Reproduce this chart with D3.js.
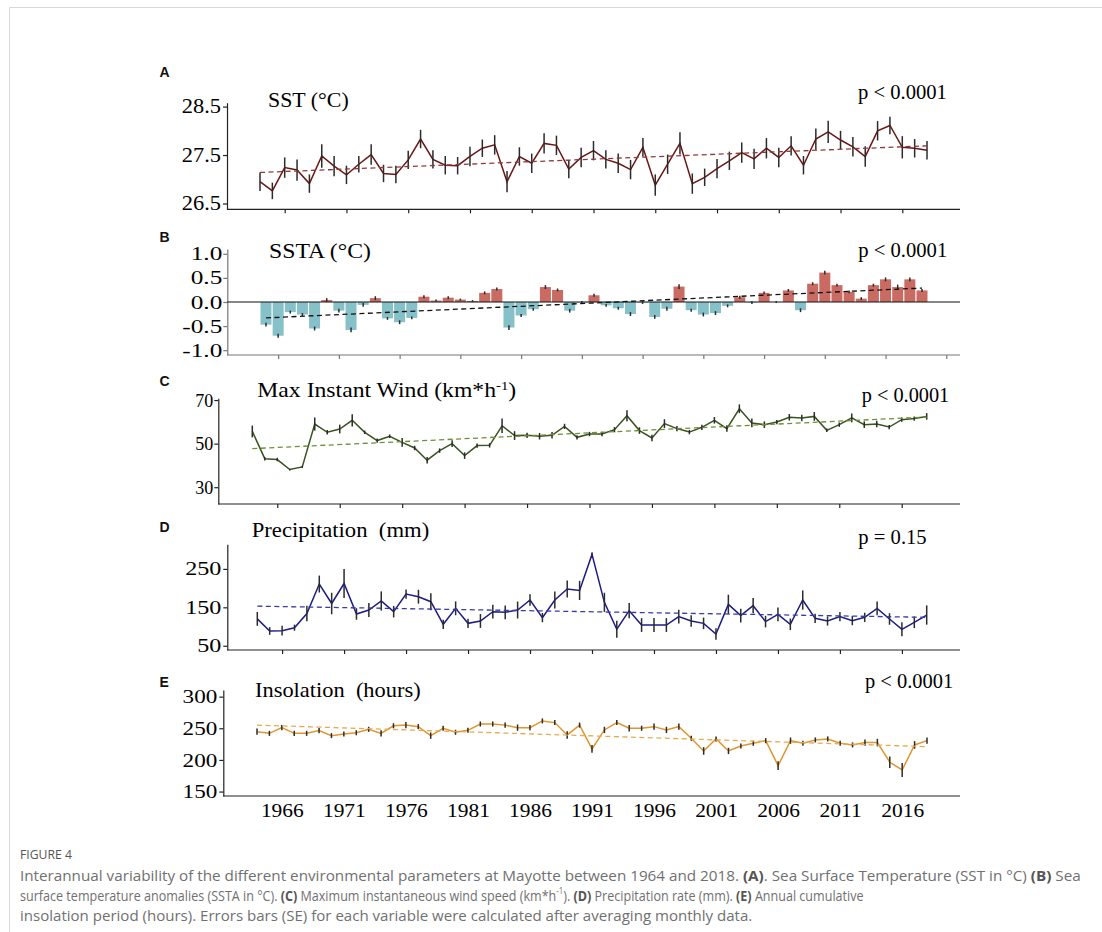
<!DOCTYPE html>
<html><head><meta charset="utf-8">
<script src="https://cdn.jsdelivr.net/npm/d3@7"></script>
<style>
body{margin:0;background:#fff;}
svg{display:block;}
</style></head><body>
<svg id="fig" width="1102" height="932"></svg>
<script>
// ---- data -------------------------------------------------------------
const years = d3.range(1964, 2019);

const sst = [26.95,26.76,27.24,27.19,26.91,27.48,27.27,27.09,27.31,27.51,27.12,27.10,27.40,27.83,27.41,27.29,27.28,27.47,27.64,27.71,26.95,27.47,27.33,27.74,27.70,
             27.21,27.45,27.59,27.41,27.33,27.20,27.66,26.88,27.31,27.74,26.91,27.04,27.22,27.38,27.55,27.42,27.64,27.45,27.69,27.29,27.83,27.98,27.81,27.67,27.47,28.00,28.11,27.66,27.64,27.60];
const sstSE = [0.19,0.17,0.21,0.22,0.19,0.24,0.21,0.19,0.17,0.21,0.18,0.18,0.19,0.19,0.19,0.19,0.18,0.20,0.18,0.20,0.22,0.19,0.20,0.21,0.20,
               0.19,0.20,0.20,0.19,0.20,0.20,0.19,0.22,0.20,0.23,0.21,0.18,0.20,0.19,0.21,0.21,0.21,0.20,0.20,0.19,0.22,0.23,0.19,0.20,0.21,0.20,0.18,0.23,0.19,0.19];
const sstTrend = [27.14, 27.69];
const sstTicks = [26.5, 27.5, 28.5];

const ssta = [-0.47,-0.70,-0.21,-0.26,-0.55,0.04,-0.18,-0.58,-0.06,0.08,-0.34,-0.42,-0.33,0.11,0.03,0.09,0.05,0.02,0.19,0.27,-0.53,-0.28,-0.15,0.31,0.25,
              -0.18,-0.01,0.14,-0.07,-0.13,-0.25,-0.01,-0.31,-0.14,0.32,-0.17,-0.26,-0.23,-0.08,0.10,-0.01,0.19,0.00,0.24,-0.17,0.38,0.61,0.35,0.21,0.07,0.35,0.47,0.31,0.47,0.24];
const sstaSE = [0.04,0.04,0.03,0.03,0.04,0.04,0.04,0.05,0.04,0.04,0.03,0.04,0.03,0.03,0.02,0.03,0.02,0.02,0.03,0.03,0.05,0.03,0.03,0.04,0.03,
                0.04,0.03,0.03,0.03,0.03,0.04,0.03,0.04,0.04,0.05,0.03,0.04,0.04,0.03,0.03,0.03,0.03,0.02,0.03,0.04,0.03,0.04,0.03,0.03,0.03,0.03,0.04,0.05,0.04,0.03];
const sstaTrend = [-0.33, 0.29];
const sstaTicks = [-1.0, -0.5, 0.0, 0.5, 1.0];

const wind = [55.6,43.1,42.7,38.1,39.3,59.0,55.2,56.7,60.7,55.2,51.4,53.4,50.6,48.0,42.4,46.8,50.0,44.5,49.1,49.2,58.2,53.7,53.8,53.4,53.8,
              57.9,52.9,54.4,54.4,56.4,62.8,56.0,52.6,59.2,56.9,55.3,57.5,60.7,56.9,66.0,59.5,58.7,59.9,62.1,61.8,62.5,56.1,58.7,61.8,58.7,59.0,57.6,61.0,61.5,62.5];
const windSE = [2.7,0.8,0.8,0.4,0.5,3.0,1.0,2.0,2.8,0.8,1.0,0.8,2.0,1.0,1.5,1.0,1.5,1.5,1.0,1.0,3.3,2.0,1.2,1.5,1.5,
                1.2,1.0,1.0,1.0,1.2,2.5,1.5,1.5,2.0,1.2,1.0,1.2,1.5,1.5,2.0,2.0,1.5,1.0,1.5,1.5,2.0,0.8,1.0,2.0,1.5,1.5,1.0,1.0,1.0,1.5];
const windTrend = [47.7, 62.2];
const windTicks = [30, 50, 70];

const precip = [120,88.5,89.4,97,134,210.6,160,212,132.7,143,166.5,138.7,184.6,177.7,164.7,105.8,147.4,108.4,114.5,138.7,137,143,169,123.2,169,
                197.6,194,287.7,163,92.9,141.3,104,104,104,125.8,114.5,108.4,80.7,157.8,128.4,154.3,112.8,131.8,105.8,169,121.4,114.5,125.8,115.4,124,147.4,119.7,92.9,111,130];
const precipSE = [18,10,13,8,20,22,28,38,15,18,25,15,12,18,22,12,18,12,18,18,18,22,15,12,22,
                  22,25,5,25,22,20,18,18,18,18,15,15,15,25,18,20,15,18,15,25,12,12,12,12,12,18,15,18,15,25];
const precipTrend = [153, 124];
const precipTicks = [50, 150, 250];

const insol = [244.7,242,251,242,242,246.3,238.4,241,243,248.4,242,254,255,252.6,238.4,250,243.7,246.8,256.8,256.8,255,251,251,261.6,259,
               239.5,255,217.4,247.4,259,250,250,252.6,247.4,252.6,234.2,214.2,233.2,214.2,222.1,226.3,230.5,191,230.5,226.3,231.6,233.2,226.3,223.7,227.4,227.4,196.3,184.2,223.7,230.5];
const insolSE = [5,4,4,4,4,4,4,4,4,4,5,4,5,4,5,4,4,4,4,4,4,5,4,4,4,
                 6,4,6,5,4,5,4,5,5,5,4,6,4,5,4,4,4,7,5,4,4,4,4,4,5,6,9,11,6,5];
const insolTrend = [255, 221];
const insolTicks = [150, 200, 250, 300];

const yearTicks = d3.range(1966, 2017, 5);
const sstaYearTicks = d3.range(1965, 2021, 5);

// ---- drawing ----------------------------------------------------------
const serif = "'Liberation Serif','Times New Roman',serif";
const sans = "'Liberation Sans',Arial,sans-serif";
const hyphenFmt = d => d.toFixed(1).replace("\u2212", "-");

const panels = [
  {key:"A", kind:"line", values:sst, se:sstSE, trend:sstTrend, domain:[26.38,28.58], yTicks:sstTicks, fmt:d=>d.toFixed(1),
   xTicks:yearTicks, axisX:227, top:102.7, bottom:209.3, xr:[260,927],
   line:"#6b1616", trendColor:"#8f3a3a", axisColor:"#222",
   title:[["SST (°C)"]], titleX:268, titleY:107, titleW:80.7,
   pText:"p < 0.0001", pX:858, pY:99, pW:89, labelY:77,
   tickFont:20, tickSX:1.12, tickGap:6},
  {key:"B", kind:"bar", values:ssta, se:sstaSE, trend:sstaTrend, domain:[-1.1,1.1], yTicks:sstaTicks, fmt:hyphenFmt,
   xTicks:sstaYearTicks, axisX:227.3, top:249, bottom:355, xr:[266,922],
   pos:"#c96a63", neg:"#86c0c8", trendColor:"#111", axisColor:"#777",
   title:[["SSTA (°C)"]], titleX:269, titleY:258.3, titleW:102,
   pText:"p < 0.0001", pX:858.3, pY:256.7, pW:89, labelY:241.7,
   tickFont:19, tickSX:1.33, tickGap:5},
  {key:"C", kind:"line", values:wind, se:windSE, trend:windTrend, domain:[22.3,70.8], yTicks:windTicks, fmt:d3.format("d"),
   xTicks:yearTicks, axisX:218.3, top:398.3, bottom:504, xr:[252.3,926.7],
   line:"#3a5420", trendColor:"#6d8f35", axisColor:"#222",
   title:[["Max Instant Wind (km*h"],["-1","sup"],[")"]], titleX:257.3, titleY:397, titleW:259,
   pText:"p < 0.0001", pX:861.7, pY:401.7, pW:87.6, labelY:386,
   tickFont:19, tickSX:0.95, tickGap:5},
  {key:"D", kind:"line", values:precip, se:precipSE, trend:precipTrend, domain:[39,314], yTicks:precipTicks, fmt:d3.format("d"),
   xTicks:yearTicks, axisX:227.3, top:544.3, bottom:650, xr:[257.3,926.7],
   line:"#1c1c86", trendColor:"#3b3ba6", axisColor:"#222",
   title:[["Precipitation  (mm)"]], titleX:251.7, titleY:536.7, titleW:177.6,
   pText:"p = 0.15", pX:858.3, pY:544.3, pW:68.4, labelY:531.7,
   tickFont:19, tickSX:1.27, tickGap:6},
  {key:"E", kind:"line", values:insol, se:insolSE, trend:insolTrend, domain:[143,310.5], yTicks:insolTicks, fmt:d3.format("d"),
   xTicks:yearTicks, axisX:223.3, top:690, bottom:796, xr:[257,927],
   line:"#e0952e", trendColor:"#e9a94f", axisColor:"#222",
   title:[["Insolation  (hours)"]], titleX:255, titleY:697.3, titleW:165.7,
   pText:"p < 0.0001", pX:865, pY:688.3, pW:88.3, labelY:686.7,
   tickFont:19, tickSX:1.22, tickGap:6, yearLabels:true}
];

const svg = d3.select("#fig");
svg.append("rect").attr("width", 1102).attr("height", 932).attr("fill", "#fff");
// outer frame of the figure
svg.append("path").attr("d", "M9.5,932V7.5H1102").attr("fill", "none").attr("stroke", "#d8d8d8");

// place a text at (x, y) and squeeze/stretch it horizontally to a given width
function fitText(sel, x, y, width) {
  const w = sel.node().getComputedTextLength();
  sel.attr("transform", `translate(${x},${y}) scale(${width / w},1)`);
}

function addRuns(textSel, runs) {
  runs.forEach(([t, kind]) => {
    const ts = textSel.append("tspan").text(t);
    if (kind === "sup") ts.attr("baseline-shift", "super").attr("font-size", "62%");
    if (kind === "b") ts.attr("font-weight", "bold").attr("fill", "#555");
  });
}

panels.forEach(p => {
  const g = svg.append("g").attr("class", "panel-" + p.key);
  const x = d3.scaleLinear().domain([1964, 2018]).range(p.xr);
  const y = d3.scaleLinear().domain(p.domain).range([p.bottom, p.top]);

  // y axis
  const yg = g.append("g").attr("transform", `translate(${p.axisX},0)`)
    .call(d3.axisLeft(y).tickValues(p.yTicks).tickSize(4).tickSizeOuter(0).tickFormat(p.fmt));
  yg.select(".domain").attr("stroke", p.axisColor).attr("stroke-width", 1.2);
  yg.selectAll(".tick line").attr("stroke", p.axisColor).attr("stroke-width", 1.2);
  yg.selectAll(".tick text")
    .attr("font-family", serif).attr("font-size", p.tickFont).attr("fill", "#000")
    .attr("x", -p.tickGap / p.tickSX).attr("transform", `scale(${p.tickSX},1)`);

  // x axis
  const xa = d3.axisBottom(x).tickValues(p.xTicks)
    .tickSize(p.yearLabels ? 0 : 4).tickPadding(7)
    .tickFormat(p.yearLabels ? d3.format("d") : "");
  const xg = g.append("g").attr("transform", `translate(0,${p.bottom})`).call(xa);
  xg.select(".domain").remove();
  xg.selectAll(".tick line").attr("stroke", p.axisColor).attr("stroke-width", 1.2);
  xg.selectAll(".tick text").attr("font-family", serif).attr("font-size", 19.5).attr("fill", "#000")
    .attr("transform", "scale(1.1,1)");
  g.append("line").attr("x1", p.axisX).attr("x2", 960).attr("y1", p.bottom).attr("y2", p.bottom)
    .attr("stroke", p.axisColor).attr("stroke-width", 1.2);

  if (p.kind === "bar") {
    const bw = 11;
    g.selectAll("rect.bar").data(p.values).join("rect").attr("class", "bar")
      .attr("x", (d, i) => x(years[i]) - bw / 2)
      .attr("y", d => y(Math.max(0, d)))
      .attr("width", bw)
      .attr("height", d => Math.abs(y(d) - y(0)))
      .attr("fill", d => d >= 0 ? p.pos : p.neg);
    g.append("line").attr("x1", p.axisX).attr("x2", 960).attr("y1", y(0)).attr("y2", y(0))
      .attr("stroke", "#111").attr("stroke-width", 1.2);
  } else {
    g.append("path").datum(p.values)
      .attr("d", d3.line().x((d, i) => x(years[i])).y(d => y(d)))
      .attr("fill", "none").attr("stroke", p.line).attr("stroke-width", 1.5);
  }

  // error bars (SE)
  g.selectAll("line.err").data(p.values).join("line").attr("class", "err")
    .attr("x1", (d, i) => x(years[i])).attr("x2", (d, i) => x(years[i]))
    .attr("y1", (d, i) => y(d - p.se[i])).attr("y2", (d, i) => y(d + p.se[i]))
    .attr("stroke", "#2b2b2b").attr("stroke-width", 1.5);

  // linear trend
  g.append("line")
    .attr("x1", x(years[0])).attr("y1", y(p.trend[0]))
    .attr("x2", x(years[years.length - 1])).attr("y2", y(p.trend[1]))
    .attr("stroke", p.trendColor).attr("stroke-width", 1.3).attr("stroke-dasharray", "5,3.5");

  // texts
  const t = g.append("text").attr("font-family", serif).attr("font-size", 21).attr("fill", "#000")
    .style("white-space", "pre");
  addRuns(t, p.title);
  fitText(t, p.titleX, p.titleY, p.titleW);

  const pt = g.append("text").attr("font-family", serif).attr("font-size", 20).attr("fill", "#000")
    .text(p.pText);
  fitText(pt, p.pX, p.pY, p.pW);

  g.append("text").attr("x", 159.5).attr("y", p.labelY).attr("font-family", sans)
    .attr("font-weight", "bold").attr("font-size", 14).attr("fill", "#111").text(p.key);
});

// caption
const capFont = "'Liberation Sans Narrow','Open Sans','Liberation Sans',sans-serif";
const fig = svg.append("text").attr("font-family", capFont).attr("font-size", 13).attr("fill", "#555")
  .text("FIGURE 4");
fitText(fig, 20, 859, 52);

const captionLines = [
  {runs:[["Interannual variability of the different environmental parameters at Mayotte between 1964 and 2018. "],["(A)","b"],[". Sea Surface Temperature (SST in °C) "],["(B)","b"],[" Sea"]], y:881, w:1062},
  {runs:[["surface temperature anomalies (SSTA in °C). "],["(C)","b"],[" Maximum instantaneous wind speed (km*h"],["-1","sup"],["). "],["(D)","b"],[" Precipitation rate (mm). "],["(E)","b"],[" Annual cumulative"]], y:901, w:844},
  {runs:[["insolation period (hours). Errors bars (SE) for each variable were calculated after averaging monthly data."]], y:921, w:733}
];
captionLines.forEach(l => {
  const t = svg.append("text").attr("font-family", capFont).attr("font-size", 15).attr("fill", "#707070");
  addRuns(t, l.runs);
  fitText(t, 20, l.y, l.w);
});
</script>
</body></html>
